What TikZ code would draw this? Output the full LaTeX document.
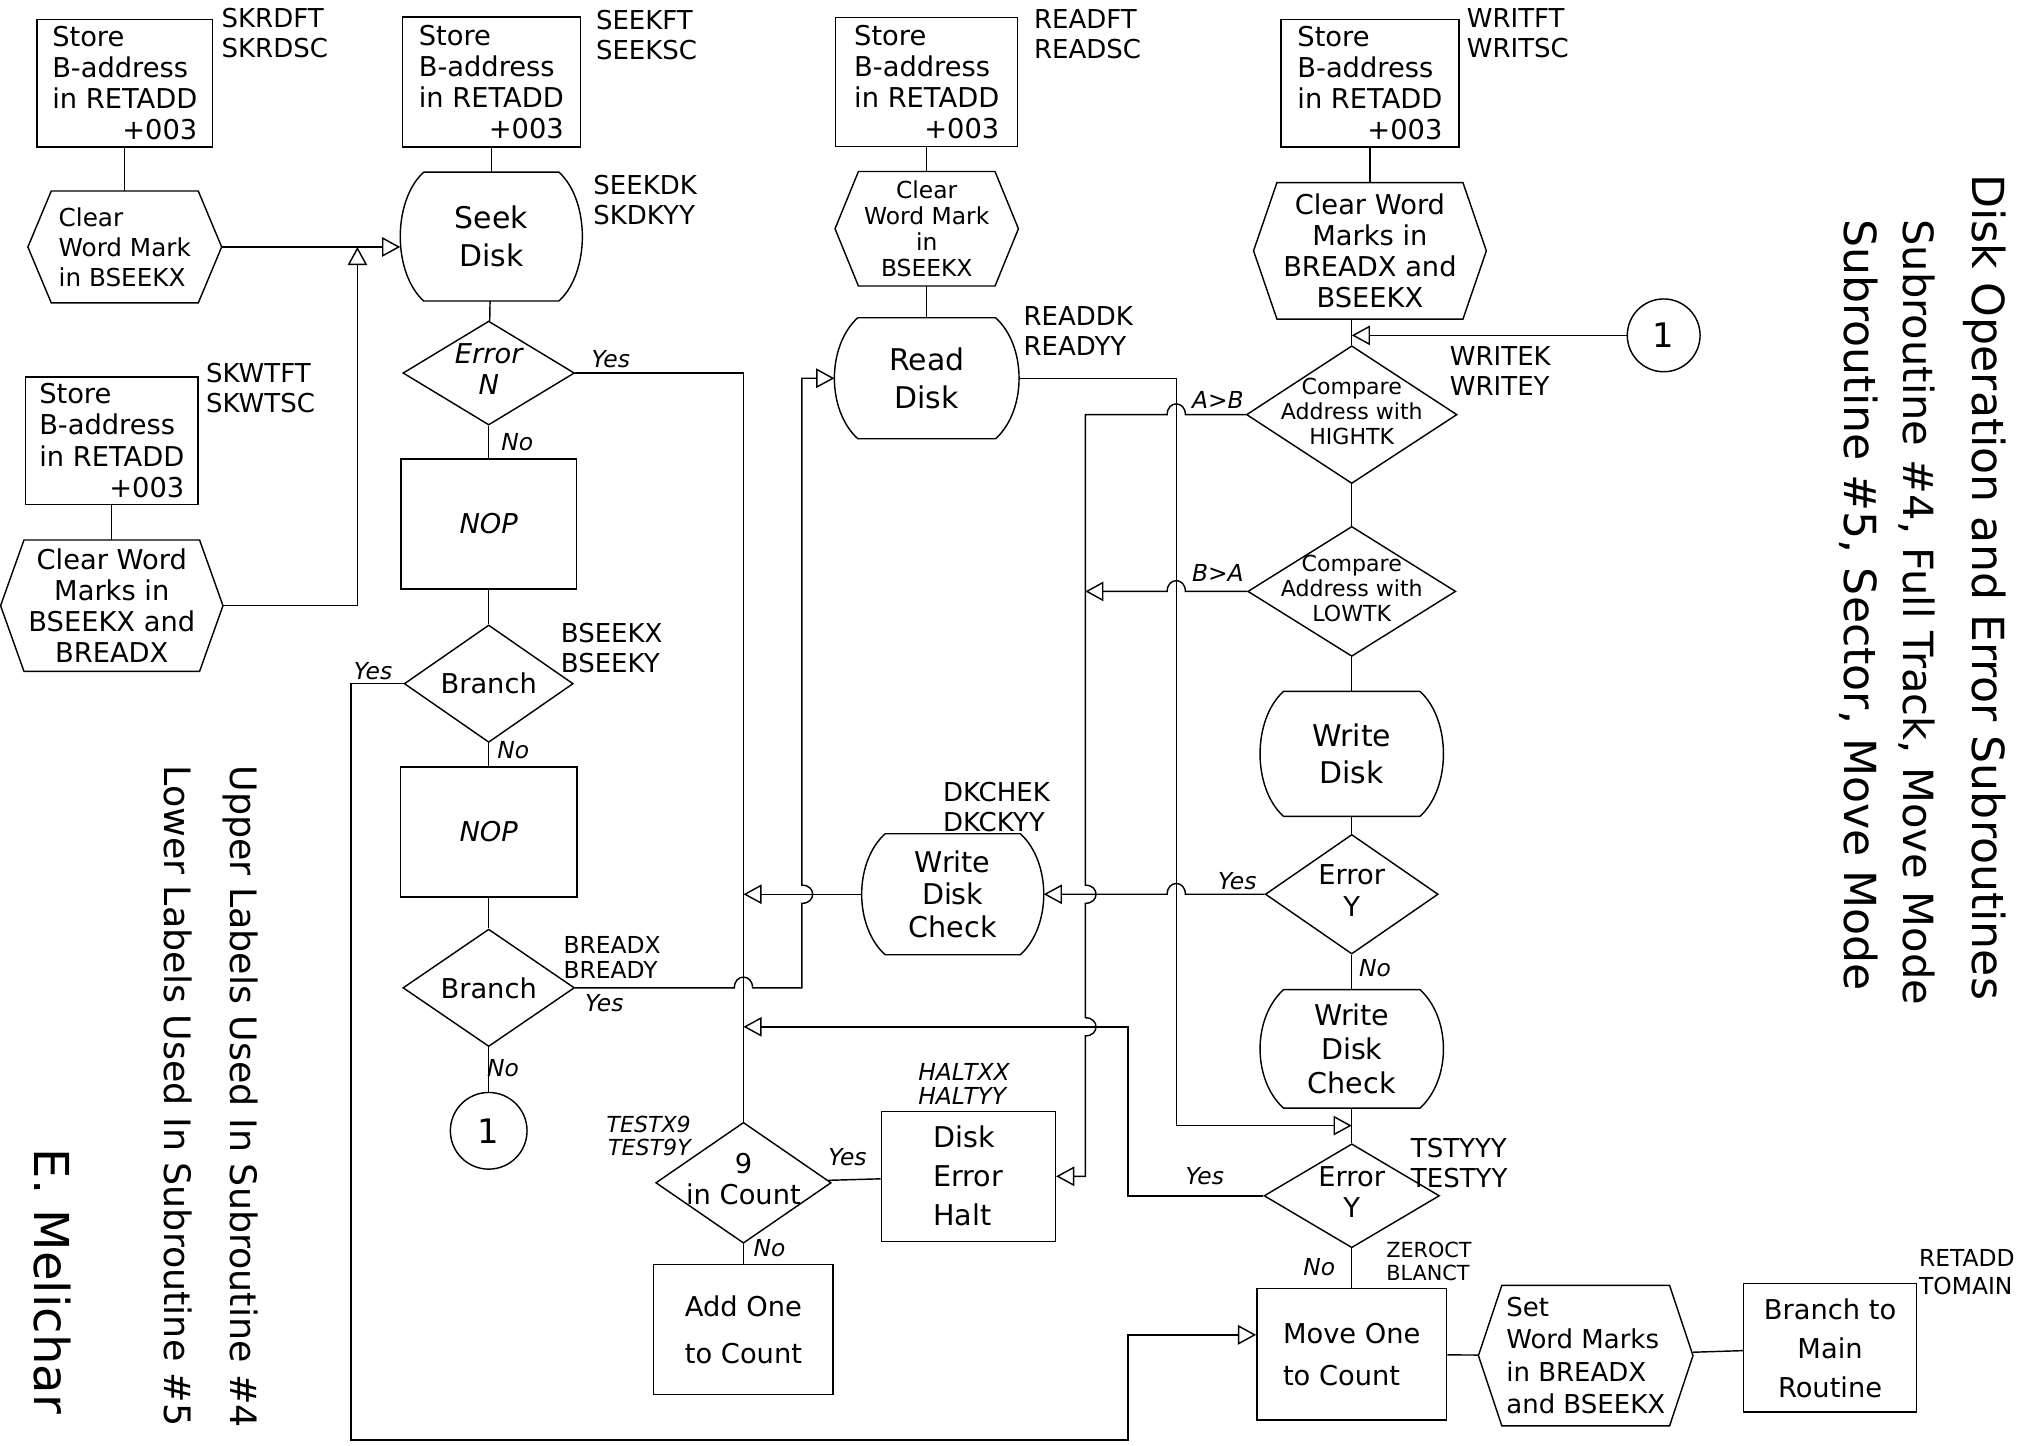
\documentclass[tikz,border=0pt]{standalone}
\usepackage{fontspec}
\setmainfont{DejaVu Sans}
\usetikzlibrary{arrows.meta,shapes.geometric}

% line hops: (x of crossed line, y of own line) and the reverse
\newcommand{\hopL}[2]{-- (#1+7,#2) .. controls (#1+7,#2-11) and (#1-7,#2-11) .. (#1-7,#2)}
\newcommand{\hopR}[2]{-- (#1-7,#2) .. controls (#1-7,#2-11) and (#1+7,#2-11) .. (#1+7,#2)}
\newcommand{\hopD}[2]{-- (#1,#2-7) .. controls (#1+11,#2-7) and (#1+11,#2+7) .. (#1,#2+7)}
\newcommand{\hopU}[2]{-- (#1,#2+7) .. controls (#1+11,#2+7) and (#1+11,#2-7) .. (#1,#2-7)}
\newcommand{\dtxt}[1]{\makebox[0pt]{\begin{tabular}{@{}c@{}}#1\end{tabular}}}

\begin{document}
\begin{tikzpicture}[x=1pt, y=-1pt, line width=1.1pt,
  font=\fontsize{21}{24}\selectfont,
  proc/.style={draw, rectangle, align=left, inner sep=4pt},
  hexa/.style={rectangle, align=center, inner sep=2pt},
  barrel/.style={rectangle, align=center, inner sep=2pt, font=\fontsize{23}{29}\selectfont},
  dia/.style={diamond, draw, inner sep=0pt},
  conn/.style={circle, draw, inner sep=0pt, font=\fontsize{26}{26}\selectfont},
  lbl/.style={align=left, anchor=north west, inner sep=0pt, font=\fontsize{20}{23}\selectfont},
  yn/.style={inner sep=1pt, font=\fontsize{18}{20}\itshape},
  arr/.style={-{Triangle[open, length=14pt, width=15pt]}}]
  \useasboundingbox (0,0) rectangle (1568,1112);

  % entry boxes
  \node[proc, minimum width=135pt, minimum height=98pt] (sk1) at (96,64) {Store\\B-address\\in RETADD\\\hspace*{\fill}+003};
  \node[proc, minimum width=133pt, minimum height=98pt] (sk2) at (86,339) {Store\\B-address\\in RETADD\\\hspace*{\fill}+003};
  \node[proc, minimum width=137pt, minimum height=100pt] (se1) at (378,63) {Store\\B-address\\in RETADD\\\hspace*{\fill}+003};
  \node[proc, minimum width=140pt, minimum height=99pt] (rd1) at (713,63) {Store\\B-address\\in RETADD\\\hspace*{\fill}+003};
  \node[proc, minimum width=137pt, minimum height=98pt] (wr1) at (1054,64) {Store\\B-address\\in RETADD\\\hspace*{\fill}+003};

  % clear / set word marks
  \node[hexa, align=left, minimum width=148pt, minimum height=85pt, font=\fontsize{19}{23}\selectfont] (cw1) at (96,190) {Clear\\Word Mark\\in BSEEKX};
  \node[hexa, minimum width=170pt, minimum height=100pt] (cw2) at (86,466) {Clear Word\\Marks in\\BSEEKX and\\BREADX};
  \node[hexa, minimum width=140pt, minimum height=87pt, font=\fontsize{18}{20}\selectfont] (cw3) at (713,176) {Clear\\Word Mark\\in\\BSEEKX};
  \node[hexa, minimum width=178pt, minimum height=104pt] (cw4) at (1054,193) {Clear Word\\Marks in\\BREADX and\\BSEEKX};
  \node[hexa, align=left, minimum width=164pt, minimum height=107pt, font=\fontsize{20}{25}\selectfont] (sw) at (1220,1043) {Set\\Word Marks\\in BREADX\\and BSEEKX};

  % disk operations
  \node[barrel, minimum width=139pt, minimum height=98pt] (seek) at (378,182) {Seek\\Disk};
  \node[barrel, minimum width=141pt, minimum height=92pt] (read) at (713,291) {Read\\Disk};
  \node[barrel, minimum width=140pt, minimum height=95pt] (wdisk) at (1040,580) {Write\\Disk};
  \node[barrel, minimum width=139pt, minimum height=92pt, font=\fontsize{22}{25}\selectfont] (wchk1) at (733,688) {Write\\Disk\\Check};
  \node[barrel, minimum width=140pt, minimum height=90pt, font=\fontsize{22}{26}\selectfont] (wchk2) at (1040,807) {Write\\Disk\\Check};

  % decisions
  \node[dia, minimum width=132pt, minimum height=80pt] (d1) at (376,287) {\dtxt{\itshape Error\\\itshape N}};
  \node[dia, minimum width=130pt, minimum height=79pt] (d2) at (376,526) {Branch};
  \node[dia, minimum width=132pt, minimum height=81pt] (d3) at (376,760) {Branch};
  \node[dia, minimum width=135pt, minimum height=93pt] (d4) at (572,910) {\dtxt{9\\in Count}};
  \node[dia, minimum width=162pt, minimum height=106pt, font=\fontsize{17}{19}\selectfont] (c1) at (1040,319) {\dtxt{Compare\\Address with\\HIGHTK}};
  \node[dia, minimum width=160pt, minimum height=100pt, font=\fontsize{17}{19}\selectfont] (c2) at (1040,455) {\dtxt{Compare\\Address with\\LOWTK}};
  \node[dia, minimum width=133pt, minimum height=92pt] (e2) at (1040,688) {\dtxt{Error\\Y}};
  \node[dia, minimum width=135pt, minimum height=80pt] (e3) at (1040,920) {\dtxt{Error\\Y}};

  % plain boxes
  \node[proc, align=center, minimum width=135pt, minimum height=100pt] (nop1) at (376,403) {\itshape NOP};
  \node[proc, align=center, minimum width=136pt, minimum height=100pt] (nop2) at (376,640) {\itshape NOP};
  \node[proc, minimum width=134pt, minimum height=100pt, font=\fontsize{22}{30}\selectfont] (halt) at (745,905) {Disk\\Error\\Halt};
  \node[proc, minimum width=138pt, minimum height=100pt, font=\fontsize{21}{36}\selectfont] (add) at (572,1023) {Add One\\to Count};
  \node[proc, minimum width=146pt, minimum height=101pt, font=\fontsize{21}{32}\selectfont] (move) at (1040,1042) {Move One\\to Count};
  \node[proc, align=center, minimum width=133pt, minimum height=99pt, font=\fontsize{21}{30}\selectfont] (tomain) at (1408,1037) {Branch to\\Main\\Routine};

  % connectors
  \node[conn, minimum size=59pt] (con1) at (376,870) {1};
  \node[conn, minimum size=56pt] (con2) at (1280,258) {1};

  % outlines of the hexagons and the disk symbols
  \foreach \n in {cw1,cw2,cw3,cw4,sw}
    \draw ([xshift=18pt]\n.north west) -- ([xshift=-18pt]\n.north east) -- (\n.east)
      -- ([xshift=-18pt]\n.south east) -- ([xshift=18pt]\n.south west) -- (\n.west) -- cycle;
  \foreach \n in {seek,read,wdisk,wchk1,wchk2}
    \draw ([xshift=18pt]\n.north west) -- ([xshift=-18pt]\n.north east)
      .. controls ([xshift=6pt,yshift=-22pt]\n.north east) and ([xshift=6pt,yshift=22pt]\n.south east) .. ([xshift=-18pt]\n.south east)
      -- ([xshift=18pt]\n.south west)
      .. controls ([xshift=-6pt,yshift=22pt]\n.south west) and ([xshift=-6pt,yshift=-22pt]\n.north west) .. ([xshift=18pt]\n.north west);

  % entry labels
  \node[lbl] (t1) at (170,6) {SKRDFT\\SKRDSC};
  \node[lbl] (t2) at (458,7) {SEEKFT\\SEEKSC};
  \node[lbl] (t3) at (795,7) {READFT\\READSC};
  \node[lbl] (t4) at (1128,6) {WRITFT\\WRITSC};
  \node[lbl] (t5) at (158,279) {SKWTFT\\SKWTSC};
  \node[lbl] (t6) at (456,134) {SEEKDK\\SKDKYY};
  \node[lbl] (t7) at (787,235) {READDK\\READYY};
  \node[lbl] (t8) at (1115,266) {WRITEK\\WRITEY};
  \node[lbl] (t9) at (431,479) {BSEEKX\\BSEEKY};
  \node[lbl, font=\fontsize{18}{19}\selectfont] (t10) at (433,720) {BREADX\\BREADY};
  \node[lbl] (t11) at (725,601) {DKCHEK\\DKCKYY};
  \node[lbl, font=\fontsize{18}{18}\itshape] (t12) at (706,818) {HALTXX\\HALTYY};
  \node[lbl, anchor=north east, align=right, font=\fontsize{17}{18}\itshape] (t13) at (532,858) {TESTX9\\TEST9Y};
  \node[lbl] (t14) at (1085,875) {TSTYYY\\TESTYY};
  \node[lbl, font=\fontsize{16}{18}\selectfont] (t15) at (1066,955) {ZEROCT\\BLANCT};
  \node[lbl, font=\fontsize{18}{21}\selectfont] (t16) at (1476,961) {RETADD\\TOMAIN};

  % branch labels
  \node[yn] (y1) at (470,276) {Yes};  \node[yn] (n1) at (398,340) {No};
  \node[yn] (y2) at (287,516) {Yes};  \node[yn] (n2) at (395,577) {No};
  \node[yn] (y3) at (465,772) {Yes};  \node[yn] (n3) at (387,822) {No};
  \node[yn] (y4) at (652,890) {Yes};  \node[yn] (n4) at (592,960) {No};
  \node[yn] (y5) at (952,678) {Yes};  \node[yn] (n5) at (1058,745) {No};
  \node[yn] (y6) at (927,905) {Yes};  \node[yn] (n6) at (1015,975) {No};
  \node[yn] (ab) at (937,308) {A>B};  \node[yn] (ba) at (937,441) {B>A};

  % junction points
  \coordinate (jseek) at (275,190);
  \coordinate (j1) at (572,688);
  \coordinate (jB) at (572,790);
  \coordinate (jA) at (835,455);
  \coordinate (cb) at (905,866);
  \coordinate (j3) at (1040,866);

  % straight links
  \draw (sk1) -- (cw1);
  \draw (sk2) -- (cw2);
  \draw (se1) -- (seek);
  \draw (rd1) -- (cw3);
  \draw (cw3) -- (read);
  \draw (wr1) -- (cw4);
  \draw (cw4.south -| c1.north) -- (c1.north);
  \draw (seek) -- (d1);
  \draw (d1) -- (nop1);
  \draw (nop1) -- (d2);
  \draw (d2) -- (nop2);
  \draw (nop2) -- (d3);
  \draw (d3) -- (con1);
  \draw (c1) -- (c2);
  \draw (c2) -- (wdisk);
  \draw (wdisk) -- (e2);
  \draw (e2) -- (wchk2);
  \draw (wchk2) -- (e3);
  \draw (e3) -- (move);
  \draw (move) -- (sw);
  \draw (sw) -- (tomain);
  \draw (d4) -- (halt);
  \draw (d4) -- (add);

  % flow lines with arrows
  \draw[arr] (cw1.east) -- (cw1.east -| seek.west);
  \draw[arr] (cw2.east) -| (jseek);
  \draw (d1.east) -| (d4.north);
  \draw[arr] (d3.east) \hopR{572}{760} -- (617,760) \hopU{617}{688} |- (read.west);
  \draw[arr] (wchk1.west) -- (j1);
  \draw[arr] (e2.west) \hopL{905}{688} -- (wchk1.east);
  \draw[arr] (read.east) -| (cb) -- (j3);
  \draw[arr] (c1.west) \hopL{905}{319} -- (835,319) \hopD{835}{688} \hopD{835}{790} |- (halt.east);
  \draw[arr] (c2.west) \hopL{905}{455} -- (jA);
  \draw[arr] (e3.west) -| (868,790) -- (jB);
  \draw[arr] (d2.west) -| (270,1108) -| (868,1027) -- ([yshift=15pt]move.west);
  \draw[arr] (con2.west) -- (con2.west -| c1.north);

  % notes and title
  \node[rotate=-90, anchor=west, font=\fontsize{34}{36}\selectfont] (title1) at (1527,130) {Disk Operation and Error Subroutines};
  \node[rotate=-90, anchor=west, font=\fontsize{32}{34}\selectfont] (title2) at (1475,165) {Subroutine \#4, Full Track, Move Mode};
  \node[rotate=-90, anchor=west, font=\fontsize{34}{36}\selectfont] (title3) at (1430,165) {Subroutine \#5, Sector, Move Mode};
  \node[rotate=-90, anchor=west, font=\fontsize{28}{30}\selectfont] (note1) at (185,585) {Upper Labels Used In Subroutine \#4};
  \node[rotate=-90, anchor=west, font=\fontsize{28}{30}\selectfont] (note2) at (137,585) {Lower Labels Used In Subroutine \#5};
  \node[rotate=-90, anchor=west, font=\fontsize{37}{40}\selectfont] (sign) at (40,880) {E. Melichar};
\end{tikzpicture}
\end{document}
